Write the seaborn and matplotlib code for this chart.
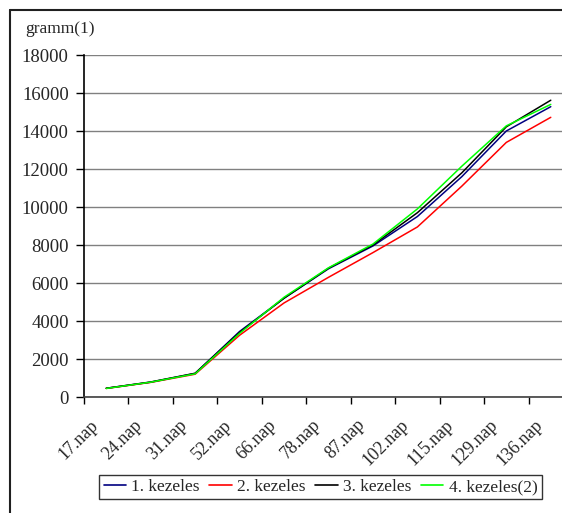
import matplotlib
matplotlib.use("Agg")
import matplotlib.pyplot as plt
import matplotlib.transforms as mtransforms
from matplotlib.lines import Line2D
import numpy as np
import pandas as pd
import seaborn as sns

# Measurement days
days = ["17.nap", "24.nap", "31.nap", "52.nap", "66.nap", "78.nap",
        "87.nap", "102.nap", "115.nap", "129.nap", "136.nap"]

# Mean weight (gramm) per treatment
kezeles_1 = [460, 780, 1240, 3450, 5200, 6750, 7950, 9500, 11600, 14000, 15280]
kezeles_2 = [450, 770, 1200, 3250, 4950, 6300, 7600, 8950, 11100, 13400, 14720]
kezeles_3 = [460, 790, 1250, 3400, 5200, 6780, 8000, 9700, 11800, 14220, 15620]
kezeles_4 = [450, 780, 1220, 3350, 5250, 6800, 8050, 9900, 12150, 14270, 15400]

series_names = ["1. kezeles", "2. kezeles", "3. kezeles", "4. kezeles(2)"]
series_values = [kezeles_1, kezeles_2, kezeles_3, kezeles_4]
colors = ["#000080", "#FF0000", "#000000", "#00FF00"]
y_ticks = list(range(0, 18001, 2000))

rows = []
for name, vals in zip(series_names, series_values):
    for i, (d, v) in enumerate(zip(days, vals)):
        rows.append({"pos": i, "nap": d, "gramm": v, "kezeles": name})
df = pd.DataFrame(rows)

sns.set_theme(style="white")
plt.rcParams["font.family"] = ["Liberation Serif", "DejaVu Serif"]

fig = plt.figure(figsize=(5.62, 5.13), dpi=100)
W, H = 562, 513
ax = fig.add_axes([84 / W, (H - 397) / H, (573 - 84) / W, (397 - 55) / H])

sns.lineplot(data=df, x="pos", y="gramm", hue="kezeles",
             palette=dict(zip(series_names, colors)), linewidth=1.1,
             ax=ax, legend=False, sort=False)

ax.set_xlim(-0.5, len(days) - 0.5)
ax.set_ylim(0, 18000)
ax.set_xlabel("")
ax.set_ylabel("")

# horizontal grid
ax.set_yticks(y_ticks)
ax.set_yticklabels([str(t) for t in y_ticks], fontsize=13.5)
ax.yaxis.grid(True, color="#808080", linewidth=1.0)
ax.xaxis.grid(False)
ax.set_axisbelow(True)

# category labels at centres, tick marks at category boundaries
ax.set_xticks(range(len(days)))
ax.set_xticklabels(days, fontsize=13, rotation=45, ha="right", va="top")
ax.set_xticks(np.arange(-0.5, len(days) + 0.5, 1.0), minor=True)
ax.tick_params(axis="x", which="major", length=0, pad=14)
ax.tick_params(axis="x", which="minor", length=5, width=1, color="black",
               direction="out", bottom=True)
ax.tick_params(axis="y", which="major", length=6, width=1, color="black",
               direction="out", left=True, pad=5)
shift = mtransforms.ScaledTranslation(-5 / 100, 0, fig.dpi_scale_trans)
for lbl in ax.get_xticklabels():
    lbl.set_transform(lbl.get_transform() + shift)

for side in ["top", "right"]:
    ax.spines[side].set_visible(False)
ax.spines["left"].set_color("black")
ax.spines["left"].set_linewidth(1.2)
ax.spines["bottom"].set_color("#404040")
ax.spines["bottom"].set_linewidth(1.2)

fig.text(25 / W, 1 - 29 / H, "gramm(1)", fontsize=12.5, va="center", ha="left")

handles = [Line2D([0], [0], color=c, linewidth=1.2) for c in colors]
leg = fig.legend(handles, series_names, loc="center",
                 bbox_to_anchor=(320.5 / W, 1 - 487 / H), ncol=4,
                 fontsize=12.5, frameon=True, fancybox=False, shadow=False,
                 handlelength=1.3, handletextpad=0.3, columnspacing=0.55,
                 borderpad=0.25, borderaxespad=0)
leg.get_frame().set_edgecolor("black")
leg.get_frame().set_linewidth(1.0)

# outer chart border (top and left edges)
fig.add_artist(Line2D([9.5 / W, 9.5 / W], [0, 1 - 10 / H], color="#202020",
                      linewidth=1.5, transform=fig.transFigure))
fig.add_artist(Line2D([9.5 / W, 1], [1 - 10 / H, 1 - 10 / H], color="#202020",
                      linewidth=1.5, transform=fig.transFigure))

fig.savefig("out.png", dpi=100, facecolor="white")
